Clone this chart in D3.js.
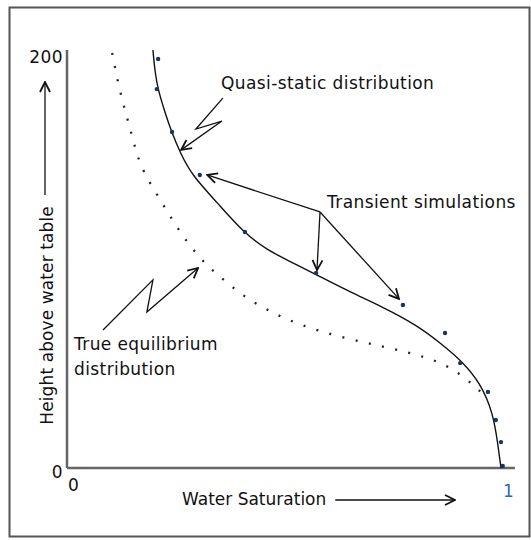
<!DOCTYPE html>
<html>
<head>
<meta charset="utf-8">
<script src="https://cdn.jsdelivr.net/npm/d3@7"></script>
<style>
  body { margin: 0; background: #fff; }
  text { font-family: "DejaVu Sans", Verdana, sans-serif; font-size: 17px; letter-spacing: 0.4px; fill: #111; }
</style>
</head>
<body>
<svg width="531" height="540"></svg>
<script>
// water saturation (x) vs height above water table (y)
var quasiStatic = [
  [0.198, 200], [0.203, 189.0], [0.210, 180.9], [0.226, 169.9], [0.242, 160.3],
  [0.260, 151.2], [0.288, 140.0], [0.346, 127.0], [0.408, 112.4], [0.461, 104.3],
  [0.521, 98.1], [0.576, 92.3], [0.652, 84.2], [0.728, 77.0], [0.806, 68.4],
  [0.866, 58.9], [0.912, 50.7], [0.952, 40.7], [0.982, 26.3], [0.993, 11.0], [1.0, 0]
];
var trueEquilibrium = [
  [0.104, 198.6], [0.118, 183.7], [0.134, 170.8], [0.152, 157.4], [0.168, 144.5],
  [0.205, 131.6], [0.240, 119.6], [0.276, 108.1], [0.318, 97.6], [0.369, 88.5],
  [0.419, 80.4], [0.479, 73.7], [0.537, 68.4], [0.636, 62.2], [0.735, 57.9],
  [0.829, 53.1], [0.889, 47.8], [0.942, 38.8], [0.965, 34.0]
];
var transient = [
  [0.210, 195.7], [0.207, 181.3], [0.242, 160.8], [0.306, 140.2], [0.410, 112.9],
  [0.574, 93.3], [0.774, 78.0], [0.871, 64.6], [0.906, 50.2], [0.970, 36.4],
  [0.988, 23.0], [1.0, 12.4], [1.004, 1.0]
];
var xTicks = [0, 1],
    yTicks = [0, 200];

// annotation arrows, in data units
var quasiArrow = [[0.359, 177.0], [0.297, 162.2], [0.357, 166.0], [0.263, 152.2]],
    equilArrow = [[0.083, 66.0], [0.198, 90.0], [0.184, 74.6], [0.302, 95.7]],
    transientFrom = [0.583, 122.5],
    transientTips = [[0.323, 140.2], [0.576, 94.7], [0.765, 80.9]];

var svg = d3.select("svg"),
    x = d3.scaleLinear().domain([0, 1]).range([67, 501]),
    y = d3.scaleLinear().domain([0, 200]).range([468, 50]);

var defs = svg.append("defs");
defs.append("marker")
    .attr("id", "head")
    .attr("viewBox", "0 0 12 12")
    .attr("refX", 11).attr("refY", 6)
    .attr("markerWidth", 12).attr("markerHeight", 12)
    .attr("markerUnits", "userSpaceOnUse")
    .attr("orient", "auto")
  .append("path")
    .attr("d", "M1,1 L11,6 L1,11")
    .attr("fill", "none")
    .attr("stroke", "#111")
    .attr("stroke-width", 1.8);

// outer frame
svg.append("rect")
    .attr("x", 9.5).attr("y", 7.5)
    .attr("width", 520).attr("height", 529)
    .attr("fill", "none")
    .attr("stroke", "#555")
    .attr("stroke-width", 2);

// axes
svg.append("line")
    .attr("x1", x(0)).attr("x2", x(0))
    .attr("y1", y(0)).attr("y2", y(200))
    .attr("stroke", "#666").attr("stroke-width", 2.5);
svg.append("line")
    .attr("x1", x(0)).attr("x2", x(1.032))
    .attr("y1", y(0)).attr("y2", y(0))
    .attr("stroke", "#666").attr("stroke-width", 2.5);

svg.selectAll(".ytick")
    .data(yTicks)
  .enter().append("text")
    .attr("class", "ytick")
    .attr("x", x(0) - 4)
    .attr("y", function(d) { return d == 0 ? y(d) + 10 : y(d) + 13; })
    .attr("text-anchor", "end")
    .text(function(d) { return d; });

svg.selectAll(".xtick")
    .data(xTicks)
  .enter().append("text")
    .attr("class", "xtick")
    .attr("x", function(d) { return d == 0 ? x(d) + 1 : x(d) + 2; })
    .attr("y", function(d) { return d == 0 ? y(0) + 23 : y(0) + 29; })
    .style("fill", function(d) { return d == 1 ? "#1f6fb0" : "#111"; })
    .text(function(d) { return d; });

// axis titles with arrows
svg.append("text")
    .attr("transform", "translate(53," + y(73) + ") rotate(-90)")
    .attr("text-anchor", "middle")
    .style("letter-spacing", "0.1px")
    .text("Height above water table");
svg.append("line")
    .attr("x1", 45).attr("x2", 45)
    .attr("y1", y(130.6)).attr("y2", y(184.7))
    .attr("stroke", "#111").attr("stroke-width", 1.3)
    .attr("marker-end", "url(#head)");

svg.append("text")
    .attr("x", 182).attr("y", 505)
    .style("letter-spacing", "0px")
    .text("Water Saturation");
svg.append("line")
    .attr("x1", x(0.618)).attr("x2", x(0.894))
    .attr("y1", 500).attr("y2", 500)
    .attr("stroke", "#111").attr("stroke-width", 1.3)
    .attr("marker-end", "url(#head)");

var line = d3.line()
    .x(function(d) { return x(d[0]); })
    .y(function(d) { return y(d[1]); })
    .curve(d3.curveBasis);

svg.append("path")
    .datum(trueEquilibrium)
    .attr("d", line)
    .attr("fill", "none")
    .attr("stroke", "#222")
    .attr("stroke-width", 2.3)
    .attr("stroke-dasharray", "2,11.5");

svg.append("path")
    .datum(quasiStatic)
    .attr("d", line)
    .attr("fill", "none")
    .attr("stroke", "#111")
    .attr("stroke-width", 1.4);

svg.selectAll(".pt")
    .data(transient)
  .enter().append("circle")
    .attr("class", "pt")
    .attr("cx", function(d) { return x(d[0]); })
    .attr("cy", function(d) { return y(d[1]); })
    .attr("r", 2.2)
    .attr("fill", "#1b3560");

// annotations
var straight = d3.line()
    .x(function(d) { return x(d[0]); })
    .y(function(d) { return y(d[1]); });

[quasiArrow, equilArrow].forEach(function(a) {
  svg.append("path")
      .attr("d", straight(a))
      .attr("fill", "none")
      .attr("stroke", "#111")
      .attr("stroke-width", 1.3)
      .attr("marker-end", "url(#head)");
});

transientTips.forEach(function(t) {
  svg.append("path")
      .attr("d", straight([transientFrom, t]))
      .attr("fill", "none")
      .attr("stroke", "#111")
      .attr("stroke-width", 1.3)
      .attr("marker-end", "url(#head)");
});

svg.append("text").attr("x", 221).attr("y", 89).text("Quasi-static distribution");
svg.append("text").attr("x", 327).attr("y", 208).text("Transient simulations");
svg.append("text").attr("x", 74).attr("y", 350).text("True equilibrium");
svg.append("text").attr("x", 74).attr("y", 375).text("distribution");
</script>
</body>
</html>
